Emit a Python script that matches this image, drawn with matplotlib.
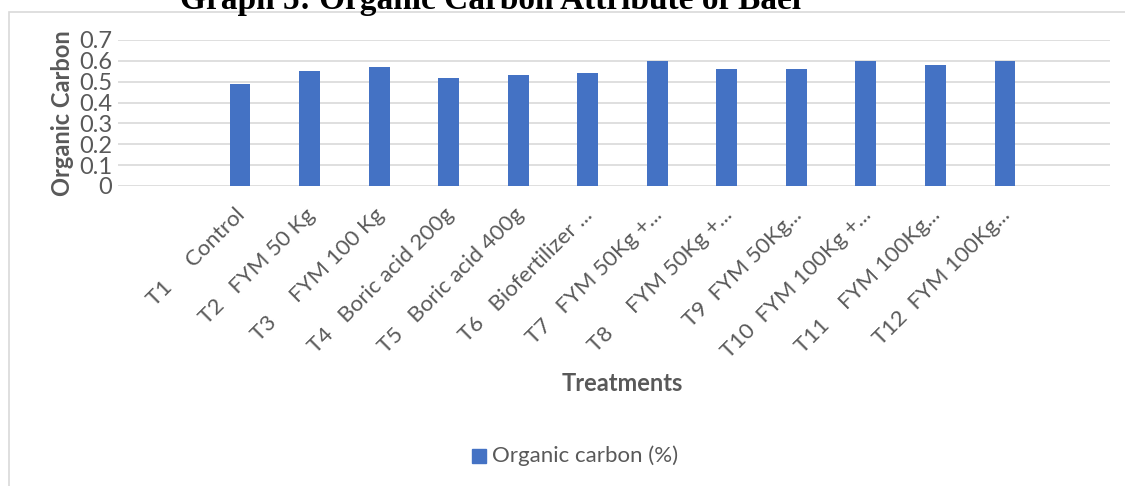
import matplotlib
matplotlib.use("Agg")
import matplotlib.pyplot as plt
from matplotlib.patches import Rectangle
import matplotlib.transforms as mtransforms

categories = ["T1     Control", "T2   FYM 50 Kg", "T3     FYM 100 Kg", "T4   Boric acid 200g",
              "T5   Boric acid 400g", "T6   Biofertilizer ...", "T7   FYM 50Kg +...",
              "T8     FYM 50Kg +...", "T9  FYM 50Kg...", "T10  FYM 100Kg +...",
              "T11    FYM 100Kg...", "T12  FYM 100Kg..."]
values = [0.49, 0.55, 0.57, 0.52, 0.53, 0.54, 0.60, 0.56, 0.56, 0.60, 0.58, 0.60]
yticks = [0, 0.1, 0.2, 0.3, 0.4, 0.5, 0.6, 0.7]
ytick_labels = ["0", "0.1", "0.2", "0.3", "0.4", "0.5", "0.6", "0.7"]
series_name = "Organic carbon (%)"
title = "Graph 5: Organic Carbon Attribute of Bael"

W, H = 1125, 486
FONT = ["Lato", "DejaVu Sans"]
GRAY = "#595959"
BLUE = "#4472C4"
plt.rcParams['font.family'] = FONT

fig = plt.figure(figsize=(W / 100, H / 100), dpi=100)

def fx(x):
    return x / W

def fy(y):
    return 1 - y / H

# chart border
fig.patches.append(Rectangle((fx(8.5), fy(500)), fx(1130) - fx(8.5), fy(12.5) - fy(500),
                             transform=fig.transFigure, fill=False, edgecolor="#D9D9D9",
                             linewidth=1.2))

ax = fig.add_axes([fx(118), fy(186), fx(1110) - fx(118), fy(40) - fy(186)])
x = list(range(len(values)))
ax.bar(x, values, width=0.3, color=BLUE, zorder=3)
ax.set_ylim(0, 0.7)
ax.set_xlim(-1.755, 12.51)
ax.set_yticks(yticks)
ax.set_yticklabels(ytick_labels, fontsize=17, color=GRAY)
ax.yaxis.grid(True, color="#D9D9D9", linewidth=1.2, zorder=0)
ax.tick_params(axis='y', length=0, pad=4)
ax.tick_params(axis='x', length=0, pad=4)
for s in ax.spines.values():
    s.set_visible(False)
ax.set_xticks(x)
ax.set_xticklabels(categories, rotation=45, ha='right', va='top', rotation_mode='anchor',
                   fontsize=16, color=GRAY)
offset = mtransforms.ScaledTranslation(-5 / 100, -13 / 100, fig.dpi_scale_trans)
for lbl in ax.get_xticklabels():
    lbl.set_transform(lbl.get_transform() + offset)

fig.text(fx(62), fy(113), "Organic Carbon", rotation=90, ha='center', va='center',
         fontsize=17, fontweight='bold', color=GRAY)
fig.text(fx(622), fy(383), "Treatments", ha='center', va='center',
         fontsize=17, fontweight='bold', color=GRAY)

# legend
fig.patches.append(Rectangle((fx(472), fy(463)), fx(486) - fx(472), fy(449) - fy(463),
                             transform=fig.transFigure, color=BLUE))
fig.text(fx(492), fy(456), series_name, ha='left', va='center', fontsize=16, color=GRAY)

# title (cut off at top)
fig.text(fx(491), fy(9), title, ha='center', va='baseline', fontsize=24,
         fontweight='bold', family=["Liberation Serif", "DejaVu Serif"], color="black")

fig.savefig("out.png", dpi=100)
